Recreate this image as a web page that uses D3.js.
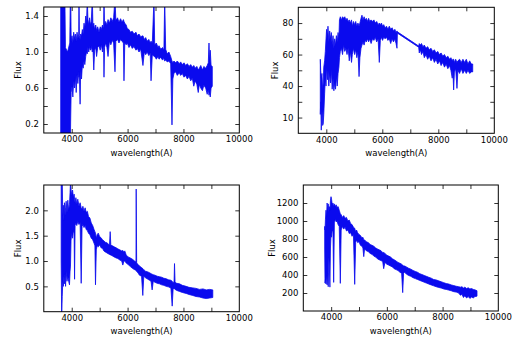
<!DOCTYPE html>
<html>
<head>
<meta charset="utf-8">
<script src="https://cdn.jsdelivr.net/npm/d3@7"></script>
<style>
  html, body { margin: 0; padding: 0; background: #fff; }
  svg { display: block; }
</style>
</head>
<body>
<svg id="chart" width="524" height="343"></svg>
<script>
// ---------------- DATA ----------------
// x axis (wavelength, Angstrom)
const xDomain = [3000, 10000];
const xTicks = [4000, 5000, 6000, 7000, 8000, 9000];
const xTickLabels = ["4000", "", "6000", "", "8000", ""];
const xEdgeLabel = "10000";

// Spectrum 1 (top-left): [wavelength, lower envelope, upper envelope]
const spec1 = [
  [3605, 0.00, 1.60], [3755, 0.00, 1.60], [3775, 0.00, 1.05], [3850, 0.00, 1.00],
  [3930, 0.00, 1.10], [3950, 0.00, 1.60], [3965, 0.30, 1.60], [3980, 0.55, 1.12],
  [4010, 0.62, 1.18], [4040, 0.50, 1.10], [4070, 0.68, 1.22], [4100, 0.60, 1.15],
  [4130, 0.72, 1.20], [4160, 0.55, 1.12], [4190, 0.75, 1.22], [4220, 0.65, 1.15],
  [4250, 0.78, 1.20], [4260, 0.72, 1.60], [4275, 0.74, 1.18], [4300, 0.42, 1.14],
  [4320, 0.80, 1.20], [4350, 0.70, 1.18], [4380, 0.85, 1.25], [4410, 0.82, 1.20],
  [4440, 0.90, 1.32], [4470, 0.86, 1.26], [4500, 0.95, 1.40], [4530, 1.00, 1.32],
  [4557, 0.98, 1.60], [4580, 1.05, 1.36], [4610, 1.00, 1.30], [4640, 1.06, 1.38],
  [4670, 1.02, 1.30], [4700, 1.06, 1.34], [4737, 1.00, 1.60], [4760, 1.04, 1.28],
  [4790, 0.80, 1.32], [4820, 1.02, 1.25], [4858, 1.05, 1.30], [4890, 0.95, 1.24],
  [4930, 1.05, 1.28], [4976, 1.07, 1.22], [5020, 1.02, 1.28], [5060, 1.08, 1.25],
  [5100, 1.00, 1.30], [5140, 1.08, 1.26], [5155, 0.72, 1.60], [5175, 1.05, 1.30],
  [5215, 1.10, 1.34], [5260, 1.05, 1.30], [5300, 0.95, 1.36], [5350, 1.12, 1.32],
  [5400, 1.08, 1.38], [5453, 1.13, 1.34], [5500, 1.10, 1.38], [5549, 0.78, 1.60],
  [5580, 1.12, 1.35], [5640, 1.14, 1.38], [5692, 1.10, 1.33], [5750, 1.14, 1.37],
  [5800, 1.12, 1.33], [5850, 1.10, 1.36], [5871, 0.68, 1.34], [5900, 1.10, 1.32],
  [5950, 1.08, 1.30], [5990, 1.10, 1.26], [6050, 1.05, 1.25], [6100, 1.08, 1.22],
  [6169, 1.04, 1.23], [6230, 1.06, 1.20], [6300, 1.02, 1.22], [6350, 1.04, 1.18],
  [6408, 1.00, 1.20], [6470, 1.03, 1.17], [6550, 0.85, 1.18], [6600, 1.00, 1.14],
  [6648, 0.97, 1.16], [6700, 1.00, 1.12], [6760, 0.96, 1.14], [6810, 0.99, 1.10],
  [6840, 0.68, 1.12], [6885, 0.97, 1.10], [6946, 0.95, 1.60], [6970, 0.95, 1.08],
  [7030, 0.92, 1.10], [7090, 0.95, 1.05], [7125, 0.92, 1.07], [7190, 0.94, 1.03],
  [7250, 0.91, 1.05], [7300, 0.93, 1.02], [7329, 0.90, 1.60], [7364, 0.91, 1.03],
  [7420, 0.89, 0.98], [7480, 0.90, 1.00], [7543, 0.87, 0.95], [7590, 0.19, 0.90],
  [7620, 0.70, 0.88], [7660, 0.76, 0.90], [7722, 0.78, 0.88], [7780, 0.74, 0.90],
  [7850, 0.77, 0.87], [7900, 0.74, 0.89], [7960, 0.76, 0.86], [8020, 0.72, 0.88],
  [8080, 0.74, 0.85], [8140, 0.70, 0.87], [8200, 0.73, 0.84], [8260, 0.68, 0.86],
  [8317, 0.71, 0.83], [8370, 0.62, 0.85], [8420, 0.68, 0.82], [8480, 0.64, 0.84],
  [8530, 0.55, 0.80], [8570, 0.64, 0.82], [8620, 0.60, 0.85], [8680, 0.57, 0.80],
  [8730, 0.63, 0.84], [8796, 0.60, 0.82], [8850, 0.53, 0.85], [8890, 0.58, 0.88],
  [8915, 0.52, 1.10], [8935, 0.55, 0.90], [8960, 0.50, 1.02], [8990, 0.60, 0.85],
  [9033, 0.62, 0.84]
];
const yDomain1 = [0.1, 1.5];
const yTicks1 = [0.2, 0.4, 0.6, 0.8, 1.0, 1.2, 1.4];
const yTickLabels1 = ["0.2", "", "0.6", "", "1.0", "", "1.4"];

// Spectrum 2 (top-right)
const spec2 = [
  [3786, 22, 57], [3800, 30, 50], [3820, 12, 45], [3845, 25, 48], [3870, 15, 38],
  [3890, 16, 42], [3910, 22, 52], [3940, 35, 56], [3965, 45, 62], [3990, 40, 70],
  [4010, 52, 76], [4040, 44, 72], [4060, 50, 78], [4090, 40, 68], [4120, 48, 75],
  [4150, 42, 70], [4180, 50, 74], [4210, 38, 66], [4240, 45, 72], [4270, 37, 64],
  [4300, 42, 70], [4330, 38, 66], [4360, 46, 72], [4390, 40, 68], [4420, 48, 74],
  [4450, 52, 70], [4470, 58, 82], [4500, 62, 84], [4540, 64, 82], [4580, 60, 84],
  [4620, 66, 83], [4660, 62, 84], [4700, 64, 82], [4740, 60, 83], [4780, 64, 81],
  [4820, 56, 82], [4860, 62, 80], [4900, 55, 82], [4930, 60, 78], [4970, 64, 81],
  [5010, 60, 79], [5050, 63, 81], [5090, 58, 78], [5130, 62, 80], [5170, 46, 78],
  [5200, 58, 80], [5240, 64, 83], [5274, 66, 85], [5310, 68, 82], [5350, 66, 84],
  [5390, 69, 82], [5430, 68, 83], [5470, 70, 81], [5512, 68, 83], [5550, 70, 81],
  [5600, 67, 82], [5650, 70, 81], [5700, 69, 82], [5750, 71, 80], [5800, 68, 81],
  [5850, 70, 79], [5893, 55, 80], [5930, 69, 79], [5970, 71, 80], [6010, 69, 78],
  [6050, 71, 79], [6100, 70, 77], [6150, 71, 78], [6200, 69, 76], [6250, 70, 78],
  [6300, 67, 76], [6350, 70, 77], [6400, 68, 75], [6450, 70, 76], [6490, 67, 74],
  [6525, 64, 75], [6540, 73.6, 74.4], [7300, 64.6, 65.4], [7320, 61, 67], [7360, 63, 66],
  [7400, 60, 67], [7450, 62, 65], [7500, 58, 66], [7560, 60, 64], [7620, 57, 65],
  [7680, 59, 63], [7740, 56, 64], [7800, 58, 62], [7860, 55, 63], [7920, 57, 61],
  [7980, 54, 62], [8040, 56, 60], [8100, 53, 61], [8160, 55, 59], [8220, 52, 60],
  [8280, 54, 58], [8340, 51, 59], [8400, 53, 57], [8450, 50, 58], [8498, 45, 56],
  [8520, 50, 57], [8548, 37.5, 57], [8575, 49, 55], [8620, 51, 57], [8667, 38.5, 55],
  [8700, 50, 56], [8760, 48, 57], [8820, 51, 55], [8880, 48, 57], [8940, 50, 55],
  [9000, 48, 57], [9060, 50, 54], [9120, 48, 56], [9180, 49, 54], [9229, 49, 54]
];
const yDomain2 = [10, 90];
const yTicks2 = [20, 30, 40, 50, 60, 70, 80];
const yTickLabels2 = ["10", "", "40", "", "60", "", "80"];

// Spectrum 3 (bottom-left)
const spec3 = [
  [3622, 1.00, 2.60], [3640, -0.10, 2.60], [3660, 0.30, 2.60], [3680, 0.60, 1.90],
  [3700, 0.50, 2.10], [3720, 0.70, 1.80], [3740, 0.55, 2.15], [3760, 0.75, 1.90],
  [3780, 0.50, 2.05], [3800, 0.80, 2.18], [3830, 0.60, 1.95], [3860, 0.70, 2.20],
  [3890, 0.60, 2.00], [3920, 0.53, 2.12], [3940, 0.80, 2.35], [3955, 0.90, 2.55],
  [3975, 1.40, 2.42], [4000, 1.55, 2.30], [4030, 1.45, 2.40], [4060, 1.60, 2.25],
  [4085, 1.55, 2.32], [4102, 0.64, 2.22], [4120, 1.70, 2.15], [4150, 1.75, 2.25],
  [4180, 1.70, 2.12], [4217, 1.78, 2.22], [4260, 1.72, 2.08], [4300, 1.76, 2.15],
  [4339, 0.56, 2.05], [4370, 1.68, 2.02], [4400, 1.72, 2.08], [4440, 1.66, 1.98],
  [4480, 1.70, 2.05], [4518, 1.62, 1.96], [4560, 1.60, 1.98], [4600, 1.55, 1.88],
  [4650, 1.52, 1.85], [4700, 1.45, 1.75], [4750, 1.42, 1.70], [4800, 1.35, 1.62],
  [4830, 1.30, 1.58], [4851, 0.53, 1.55], [4880, 1.22, 1.45], [4910, 1.30, 1.52],
  [4950, 1.28, 1.55], [5000, 1.32, 1.48], [5050, 1.26, 1.46], [5100, 1.25, 1.42],
  [5150, 1.20, 1.40], [5200, 1.18, 1.37], [5260, 1.16, 1.36], [5320, 1.14, 1.33],
  [5352, 1.13, 1.32], [5377, 1.12, 1.58], [5400, 1.12, 1.31], [5460, 1.10, 1.30],
  [5520, 1.08, 1.28], [5592, 1.06, 1.26], [5650, 1.05, 1.24], [5720, 1.02, 1.22],
  [5790, 1.00, 1.20], [5829, 0.92, 1.21], [5870, 1.00, 1.18], [5900, 1.00, 1.20],
  [5950, 0.96, 1.12], [6020, 0.93, 1.08], [6100, 0.89, 1.06], [6187, 0.85, 1.03],
  [6250, 0.83, 1.00], [6300, 0.82, 0.98], [6308, 0.80, 2.42], [6325, 0.80, 0.96],
  [6380, 0.76, 0.93], [6426, 0.72, 0.90], [6500, 0.70, 0.87], [6545, 0.32, 0.85],
  [6580, 0.70, 0.83], [6640, 0.67, 0.80], [6700, 0.65, 0.79], [6785, 0.62, 0.77],
  [6840, 0.60, 0.75], [6879, 0.43, 0.74], [6920, 0.60, 0.73], [6980, 0.58, 0.72],
  [7060, 0.56, 0.70], [7142, 0.55, 0.69], [7220, 0.53, 0.68], [7300, 0.52, 0.66],
  [7382, 0.50, 0.65], [7460, 0.49, 0.63], [7550, 0.47, 0.62], [7597, 0.11, 0.60],
  [7630, 0.44, 0.57], [7665, 0.46, 0.60], [7680, 0.45, 0.95], [7700, 0.44, 0.58],
  [7760, 0.42, 0.56], [7859, 0.40, 0.55], [7960, 0.38, 0.52], [8098, 0.36, 0.50],
  [8200, 0.34, 0.48], [8335, 0.32, 0.47], [8450, 0.30, 0.46], [8575, 0.29, 0.44],
  [8700, 0.27, 0.45], [8815, 0.26, 0.43], [8940, 0.27, 0.44], [9051, 0.28, 0.43]
];
const yDomain3 = [0, 2.5];
const yTicks3 = [0.5, 1.0, 1.5, 2.0];
const yTickLabels3 = ["0.5", "1.0", "1.5", "2.0"];

// Spectrum 4 (bottom-right)
const spec4 = [
  [3768, 700, 940], [3780, 310, 900], [3795, 350, 1020], [3815, 300, 1120],
  [3835, 400, 1050], [3855, 290, 1200], [3875, 420, 1120], [3895, 270, 1190],
  [3915, 600, 1100], [3935, 500, 1160], [3955, 265, 1120], [3975, 700, 1230],
  [3995, 850, 1270], [4015, 820, 1240], [4040, 900, 1180], [4065, 880, 1200],
  [4090, 318, 1160], [4115, 980, 1190], [4150, 1020, 1160], [4180, 990, 1180],
  [4210, 1000, 1150], [4250, 960, 1160], [4290, 940, 1120], [4329, 307, 1080],
  [4360, 900, 1070], [4400, 940, 1040], [4450, 910, 1060], [4500, 930, 1030],
  [4550, 890, 1040], [4600, 900, 1000], [4650, 860, 1010], [4700, 870, 970],
  [4750, 830, 960], [4800, 850, 930], [4845, 296, 920], [4880, 760, 880],
  [4910, 790, 900], [4950, 760, 870], [5000, 770, 850], [5050, 730, 840],
  [5107, 720, 810], [5140, 700, 820], [5170, 604, 790], [5200, 690, 790],
  [5260, 670, 770], [5330, 660, 760], [5400, 640, 740], [5466, 630, 730],
  [5530, 610, 720], [5600, 600, 700], [5660, 580, 690], [5720, 570, 680],
  [5790, 560, 670], [5850, 550, 650], [5886, 470, 650], [5930, 540, 640],
  [6000, 520, 620], [6065, 510, 610], [6130, 500, 600], [6200, 490, 580],
  [6260, 470, 570], [6330, 460, 555], [6400, 450, 540], [6470, 430, 530],
  [6530, 420, 520], [6568, 204, 510], [6600, 420, 500], [6640, 430, 500],
  [6700, 410, 490], [6780, 395, 475], [6860, 385, 465], [6940, 370, 450],
  [7020, 360, 440], [7100, 350, 430], [7180, 340, 415], [7261, 330, 405],
  [7340, 320, 395], [7420, 310, 385], [7501, 300, 375], [7590, 290, 365],
  [7680, 280, 350], [7770, 270, 345], [7860, 262, 335], [7950, 255, 325],
  [8040, 245, 315], [8130, 240, 305], [8219, 232, 300], [8310, 225, 290],
  [8400, 215, 282], [8490, 210, 275], [8578, 200, 270], [8640, 175, 265],
  [8696, 185, 270], [8750, 150, 255], [8800, 170, 265], [8860, 145, 250],
  [8920, 160, 258], [8980, 140, 245], [9040, 155, 250], [9100, 145, 240],
  [9160, 160, 235], [9235, 165, 225]
];
const yDomain4 = [0, 1400];
const yTicks4 = [200, 400, 600, 800, 1000, 1200];
const yTickLabels4 = ["200", "400", "600", "800", "1000", "1200"];

const xTitle = "wavelength(A)";
const yTitle = "Flux";

// ---------------- LAYOUT ----------------
const panels = [
  { data: spec1, yDomain: yDomain1, yTicks: yTicks1, yLabels: yTickLabels1,
    left: 43.8, right: 239.3, top: 7, bottom: 133, fluxX: 17.7 },
  { data: spec2, yDomain: yDomain2, yTicks: yTicks2, yLabels: yTickLabels2,
    left: 298.3, right: 494.3, top: 7.3, bottom: 133.3, fluxX: 275.3 },
  { data: spec3, yDomain: yDomain3, yTicks: yTicks3, yLabels: yTickLabels3,
    left: 43.8, right: 239.3, top: 185, bottom: 311.7, fluxX: 18.3 },
  { data: spec4, yDomain: yDomain4, yTicks: yTicks4, yLabels: yTickLabels4,
    left: 303.3, right: 498.3, top: 185, bottom: 311, fluxX: 272 }
];

const FONT = "DejaVu Sans, sans-serif";
const FS = 8.5;
const BLUE = "#0a0aee";

const svg = d3.select("#chart");
svg.append("rect").attr("width", 524).attr("height", 343).attr("fill", "#fff");

panels.forEach((p, i) => {
  const x = d3.scaleLinear().domain(xDomain).range([p.left, p.right]);
  const y = d3.scaleLinear().domain(p.yDomain).range([p.bottom, p.top]);
  const g = svg.append("g");

  const clipId = "clip" + i;
  svg.append("clipPath").attr("id", clipId)
    .append("rect")
    .attr("x", p.left).attr("y", p.top)
    .attr("width", p.right - p.left).attr("height", p.bottom - p.top);

  const area = d3.area()
    .x(d => x(d[0]))
    .y0(d => y(d[1]))
    .y1(d => y(d[2]));

  g.append("path")
    .datum(p.data)
    .attr("clip-path", `url(#${clipId})`)
    .attr("d", area)
    .attr("fill", BLUE)
    .attr("stroke", BLUE)
    .attr("stroke-width", 0.8)
    .attr("stroke-linejoin", "round");

  // axes: ticks pointing inward on all four sides
  const styleAxis = sel => {
    sel.select(".domain").remove();
    sel.selectAll(".tick line").attr("stroke", "#000").attr("stroke-width", 0.8);
    sel.selectAll("text").attr("font-family", FONT).attr("font-size", FS).attr("fill", "#000");
    sel.attr("font-family", null).attr("font-size", null);
  };

  g.append("g").attr("transform", `translate(0,${p.bottom})`)
    .call(d3.axisBottom(x).tickValues(xTicks).tickSize(-4).tickPadding(3.2)
      .tickFormat((d, k) => xTickLabels[k]))
    .call(styleAxis);
  g.append("g").attr("transform", `translate(0,${p.top})`)
    .call(d3.axisTop(x).tickValues(xTicks).tickSize(-4).tickFormat(""))
    .call(styleAxis);
  g.append("g").attr("transform", `translate(${p.left},0)`)
    .call(d3.axisLeft(y).tickValues(p.yTicks).tickSize(-4).tickPadding(5)
      .tickFormat((d, k) => p.yLabels[k]))
    .call(styleAxis);
  g.append("g").attr("transform", `translate(${p.right},0)`)
    .call(d3.axisRight(y).tickValues(p.yTicks).tickSize(-4).tickFormat(""))
    .call(styleAxis);

  // right-edge x label (10000)
  g.append("text")
    .attr("x", x(xDomain[1])).attr("y", p.bottom + 3.2).attr("dy", "0.71em")
    .attr("text-anchor", "middle")
    .attr("font-family", FONT).attr("font-size", FS).attr("fill", "#000")
    .text(xEdgeLabel);

  // frame
  g.append("rect")
    .attr("x", p.left).attr("y", p.top)
    .attr("width", p.right - p.left).attr("height", p.bottom - p.top)
    .attr("fill", "none").attr("stroke", "#000").attr("stroke-width", 1);

  // titles
  g.append("text")
    .attr("x", (p.left + p.right) / 2).attr("y", p.bottom + 22.5)
    .attr("text-anchor", "middle")
    .attr("font-family", FONT).attr("font-size", FS).attr("fill", "#000")
    .text(xTitle);
  g.append("text")
    .attr("transform", `translate(${p.fluxX + 3},${(p.top + p.bottom) / 2}) rotate(-90)`)
    .attr("text-anchor", "middle")
    .attr("font-family", FONT).attr("font-size", FS).attr("fill", "#000")
    .text(yTitle);
});
</script>
</body>
</html>
